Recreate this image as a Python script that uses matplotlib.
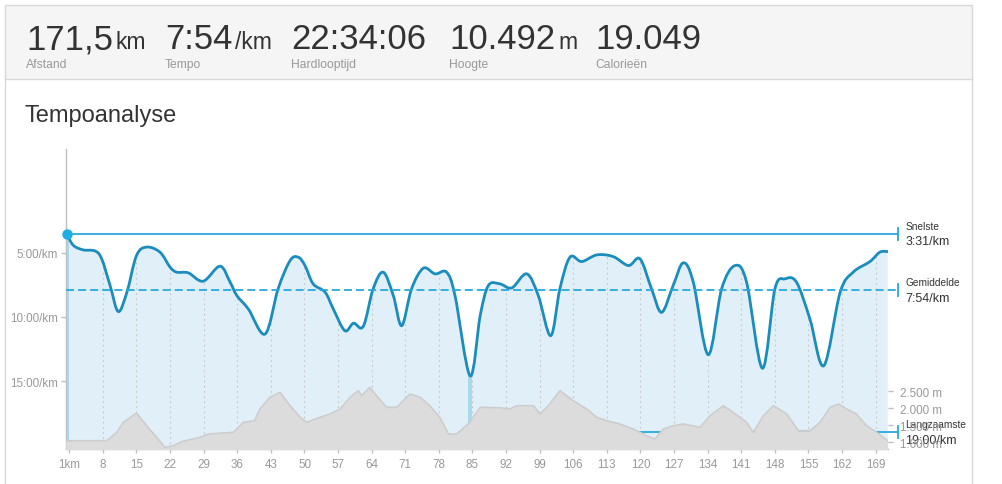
import numpy as np
import matplotlib
matplotlib.use("Agg")
import matplotlib.pyplot as plt
from matplotlib.path import Path
from matplotlib.patches import PathPatch, Rectangle
from matplotlib.lines import Line2D

plt.rcParams['font.family'] = ['Liberation Sans', 'DejaVu Sans']
plt.rcParams['lines.scale_dashes'] = False

# header statistieken
stat_values = ["171,5", "7:54", "22:34:06", "10.492", "19.049"]
stat_units = ["km", "/km", "", "m", ""]
stat_labels = ["Afstand", "Tempo", "Hardlooptijd", "Hoogte", "Calorieën"]

# tempo (minuten per km) per km
km_pace = [0.5, 1.8, 3.9, 6.35, 7.75, 9.5, 11.2, 13.0, 15.0, 17.1, 19.9, 22.0, 23.4,
           25.8, 28.9, 32.4, 34.5, 35.9, 38.3, 41.8, 44.5, 47.0, 48.7, 50.1, 51.8,
           54.3, 56.0, 58.4, 60.2, 62.25, 64.3, 66.4, 68.5, 70.25, 72.3, 74.75, 77.2,
           79.6, 81.35, 84.5, 86.6, 88.3, 90.7, 93.2, 96.3, 98.7, 101.3, 103.2, 105.3,
           107.75, 110.9, 114.3, 117.5, 119.9, 122.3, 124.4, 126.8, 128.9, 131.0,
           134.1, 136.9, 139.7, 142.1, 145.4, 148.0, 150.1, 152.5, 155.3, 158.2,
           161.6, 164.3, 167.8, 169.85, 171.5]
pace_min = [3.52, 4.4, 4.77, 4.85, 5.47, 7.55, 9.58, 8.07, 5.21, 4.55, 4.95, 6.12, 6.51,
            6.56, 7.21, 6.04, 7.29, 8.33, 9.38, 11.33, 7.81, 5.6, 5.34, 5.99, 7.42,
            8.07, 9.38, 11.07, 10.49, 10.73, 7.81, 6.51, 8.33, 10.68, 7.81, 6.2, 6.64,
            6.51, 8.33, 14.59, 9.9, 7.55, 7.42, 7.73, 6.64, 8.33, 11.46, 7.81, 5.34,
            5.68, 5.16, 5.29, 5.99, 5.47, 7.81, 9.64, 7.55, 5.78, 7.29, 12.94, 7.81,
            5.99, 7.29, 14.0, 7.81, 7.03, 7.29, 10.16, 13.8, 8.07, 6.51, 5.68, 4.95, 4.9]

# hoogteprofiel (m)
km_elev = [0.25, 8.8, 10.9, 12.25, 15.0, 17.1, 19.2, 20.9, 22.7, 24.4, 28.2, 30.0, 35.2,
           37.25, 39.6, 40.7, 42.8, 44.9, 47.0, 49.1, 50.5, 53.2, 55.3, 57.4, 59.5,
           61.2, 61.9, 63.6, 65.0, 67.1, 69.2, 72.0, 74.1, 76.1, 78.2, 80.0, 81.7,
           84.1, 86.6, 90.7, 92.8, 94.2, 97.7, 99.1, 101.1, 103.2, 106.0, 108.8, 110.9,
           113.0, 115.7, 118.5, 121.3, 123.0, 124.75, 126.9, 128.9, 132.4, 134.5,
           137.25, 139.3, 142.1, 143.5, 145.6, 147.7, 150.5, 152.9, 155.3, 157.4,
           159.5, 161.2, 163.0, 165.0, 167.1, 169.2, 171.5]
elev_m = [1047, 1047, 1294, 1588, 1862, 1488, 1147, 853, 900, 1018, 1147, 1244, 1294,
          1588, 1635, 1979, 2323, 2470, 2076, 1735, 1588, 1735, 1832, 1979, 2323,
          2518, 2371, 2618, 2371, 2029, 2029, 2421, 2323, 2076, 1735, 1244, 1244,
          1538, 2029, 2015, 1979, 2076, 2076, 1832, 2126, 2518, 2224, 1979, 1735,
          1635, 1538, 1391, 1194, 1097, 1391, 1488, 1538, 1441, 1782,
          2076, 1882, 1588, 1294, 1782, 2076, 1832, 1341, 1341, 1588,
          2029, 2126, 1979, 1832, 1488, 1294, 1047]

fastest = 3 + 31 / 60
average = 7 + 54 / 60
slowest = 19.0
fastest_label = "3:31/km"
average_label = "7:54/km"
slowest_label = "19:00/km"

x_ticks = list(range(1, 170, 7))
x_ticklabels = ["1km"] + [str(t) for t in x_ticks[1:]]
pace_ticks = [5, 10, 15]
pace_ticklabels = ["5:00/km", "10:00/km", "15:00/km"]
elev_ticks = [1000, 1500, 2000, 2500]
elev_ticklabels = ["1.000 m", "1.500 m", "2.000 m", "2.500 m"]

W, H = 1003, 485
fig = plt.figure(figsize=(W / 100, H / 100), dpi=100)
fig.patch.set_facecolor('white')


def fx(x):
    return x / W


def fy(y):
    return 1 - y / H


# panelen
fig.add_artist(Rectangle((fx(4.5), fy(80)), fx(972) - fx(4.5), fy(6) - fy(80),
                         transform=fig.transFigure, facecolor='#f5f5f5',
                         edgecolor='#d8d8d8', lw=1))
fig.add_artist(Line2D([fx(4.5), fx(4.5)], [fy(80), 0], transform=fig.transFigure,
                      color='#d8d8d8', lw=1))
fig.add_artist(Line2D([fx(972), fx(972)], [fy(80), 0], transform=fig.transFigure,
                      color='#d8d8d8', lw=1))

renderer = fig.canvas.get_renderer()
val_x = [26, 165, 291, 449, 595]
for v, u, lab, x0 in zip(stat_values, stat_units, stat_labels, val_x):
    t = fig.text(fx(x0), fy(49.3), v, fontsize=25, color='#333333', va='baseline')
    if u:
        x1 = t.get_window_extent(renderer).x1
        fig.text(fx(x1 + 3), fy(49.3), u, fontsize=16.5, color='#333333', va='baseline')
    fig.text(fx(x0), fy(67.7), lab, fontsize=8.7, color='#999999', va='baseline')

fig.text(fx(25), fy(122.3), "Tempoanalyse", fontsize=17, color='#333333', va='baseline')

# assen
ax = fig.add_axes([fx(65.7), fy(450), (887.7 - 65.7) / W, 300 / H])
ax.set_xlim(0.25, 171.5)
ax.set_ylim(20.3, -3.1)
ax.patch.set_visible(False)
for s in ['top', 'right']:
    ax.spines[s].set_visible(False)
for s in ['left', 'bottom']:
    ax.spines[s].set_color('#c0c0c0')
    ax.spines[s].set_linewidth(1)

ax.set_xticks(x_ticks)
ax.set_xticklabels(x_ticklabels)
ax.set_yticks(pace_ticks)
ax.set_yticklabels(pace_ticklabels)
ax.tick_params(axis='x', length=3, width=1, color='#c0c0c0', labelsize=8.4,
               labelcolor='#999999', pad=3.5)
ax.tick_params(axis='y', length=3.6, width=1, color='#c0c0c0', labelsize=8.4,
               labelcolor='#999999', pad=2)


def spline(xs, ys):
    pts = np.column_stack([xs, ys]).astype(float)
    n = len(pts)
    verts = [pts[0]]
    codes = [Path.MOVETO]
    for i in range(n - 1):
        p0 = pts[max(i - 1, 0)]
        p1 = pts[i]
        p2 = pts[i + 1]
        p3 = pts[min(i + 2, n - 1)]
        verts += [p1 + (p2 - p0) / 6, p2 - (p3 - p1) / 6, p2]
        codes += [Path.CURVE4] * 3
    return verts, codes


verts, codes = spline(km_pace, pace_min)
bottom = 20.3
fill_verts = verts + [(km_pace[-1], bottom), (0.25, bottom), (0.25, pace_min[0]), (0, 0)]
fill_codes = codes + [Path.LINETO, Path.LINETO, Path.LINETO, Path.CLOSEPOLY]
fill_patch = PathPatch(Path(fill_verts, fill_codes), facecolor='#e1f0f8',
                       edgecolor='none', zorder=1)
ax.add_patch(fill_patch)

grid = ax.vlines(x_ticks[1:], -3.1, bottom, colors='#c4c4c4', linestyles=(0, (1.2, 2.5)),
                 lw=0.8, zorder=1.5)
grid.set_clip_path(fill_patch)

for a, b in [(0.25, 1.0), (84.1, 85.0)]:
    span = ax.axvspan(a, b, color='#a8daee', lw=0, zorder=1.6)
    span.set_clip_path(fill_patch)

ax.add_patch(PathPatch(Path(verts, codes), fill=False, edgecolor='#1a8cbd', lw=2,
                       zorder=3, capstyle='round'))

# referentielijnen
x_end = 173.6
ref_color = '#29a8df'
ax.plot([0.25, x_end], [fastest, fastest], color=ref_color, lw=1.3, clip_on=False, zorder=4)
ax.plot([0.25, x_end], [average, average], color=ref_color, lw=1.3, clip_on=False,
        dashes=(5.8, 2.9), zorder=4)
ax.plot([118.5, x_end], [slowest, slowest], color=ref_color, lw=1.3, clip_on=False, zorder=2)
for yv in [fastest, average, slowest]:
    ax.plot([x_end, x_end], [yv - 0.47, yv + 0.47], color=ref_color, lw=1.3,
            clip_on=False, zorder=4)
ax.plot([km_pace[0]], [fastest], 'o', color='#1eaee6', ms=6.5, clip_on=False, zorder=5)

for name, yv, lab in [("Snelste", fastest, fastest_label),
                      ("Gemiddelde", average, average_label),
                      ("Langzaamste", slowest, slowest_label)]:
    ax.annotate(name, (x_end, yv), xytext=(5.5, 3.5), textcoords='offset points',
                fontsize=7.3, color='#333333', va='baseline', annotation_clip=False,
                zorder=6)
    ax.annotate(lab, (x_end, yv), xytext=(5.5, -7.6), textcoords='offset points',
                fontsize=9, color='#333333', va='baseline', annotation_clip=False,
                zorder=6)

# hoogte-as
ax2 = ax.twinx()
ax2.set_ylim(803, 9626)
for s in ax2.spines.values():
    s.set_visible(False)
ax2.fill_between(km_elev, elev_m, 0, color='#dcdcdc', lw=0, zorder=1)
ax2.plot(km_elev, elev_m, color='#cdcdcd', lw=1.2, zorder=2)
ax2.set_yticks(elev_ticks)
ax2.set_yticklabels(elev_ticklabels)
ax2.tick_params(axis='y', length=3.6, width=1, color='#c0c0c0', labelsize=8.4,
                labelcolor='#999999', pad=5)

fig.savefig("out.png", dpi=100)
